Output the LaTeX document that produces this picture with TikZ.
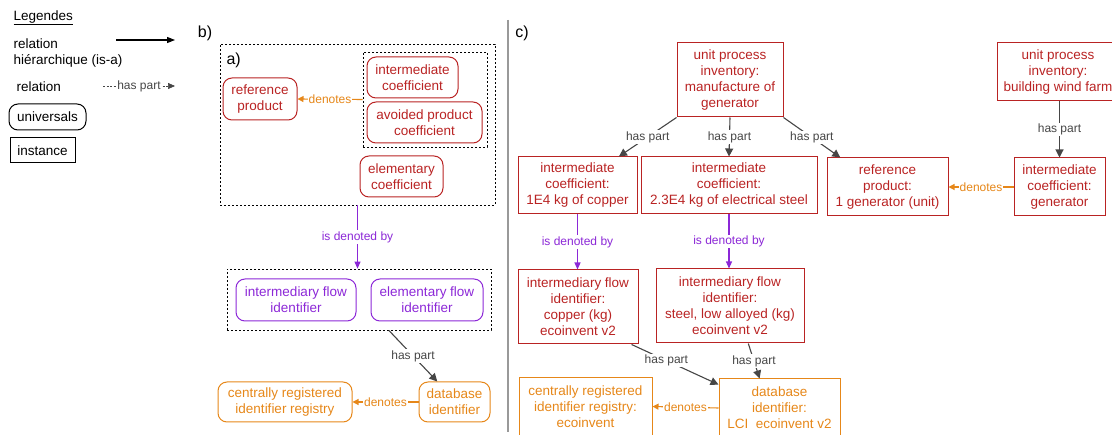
\documentclass[tikz,border=0pt]{standalone}
\usepackage{fontspec}
\setmainfont{Liberation Sans}
\usetikzlibrary{arrows.meta}
\definecolor{boxred}{RGB}{185,35,35}
\definecolor{idorange}{RGB}{230,135,25}
\definecolor{idpurple}{RGB}{140,40,215}
\definecolor{relgray}{RGB}{70,70,70}
\tikzset{
  txt/.style={font=\fontsize{13.5}{16}\selectfont},
  box/.style={txt, draw, line width=1pt, align=center, inner sep=2pt},
  univ/.style={box, rounded corners=9pt},
  inst/.style={box},
  redbox/.style={draw=boxred, text=boxred},
  orangebox/.style={draw=idorange, text=idorange},
  purplebox/.style={draw=idpurple, text=idpurple},
  group/.style={draw, line width=0.8pt, dash pattern=on 2pt off 2pt},
  rel/.style={line width=1.1pt},
  haspart/.style={rel, draw=relgray, -{Triangle[length=8pt,width=8pt]}},
  denotes/.style={rel, draw=idorange, -{Triangle[length=6pt,width=6pt]}},
  isdenoted/.style={rel, draw=idpurple, -{Triangle[length=7pt,width=6pt]}},
  lbl/.style={fill=white, inner sep=1pt, font=\fontsize{12}{14}\selectfont},
  panel/.style={font=\fontsize{16}{18}\selectfont}
}
\begin{document}
\begin{tikzpicture}[x=1pt,y=-1pt]
\useasboundingbox (0,0) rectangle (1112,435);
\clip (0,0) rectangle (1112,435);
% legende
\node[txt, anchor=west] (legtitle) at (10,18) {\underline{Legendes}};
\node[txt, anchor=west, align=left] (legisa) at (10,53) {relation\\hiérarchique (is-a)};
\coordinate (isaA) at (116,40);
\coordinate (isaB) at (175,40);
\draw[rel, black, -{Triangle[length=8pt,width=6pt]}] (isaA) -- (isaB);
\node[txt, anchor=west] (legpart) at (13,87) {relation};
\coordinate (partA) at (103,86);
\coordinate (partB) at (175,86);
\draw[line width=0.6pt, relgray, dash pattern=on 2pt off 1.5pt, -{Triangle[length=7pt,width=6pt]}] (partA) -- node[lbl, text=relgray, pos=0.5] {has part} (partB);
\node[univ, minimum width=77, minimum height=26] (leguniv) at (47.5,117) {universals};
\node[inst, minimum width=65, minimum height=25] (leginst) at (42.5,150.5) {instance};
% panneaux
\node[panel] (lblb) at (205,33) {b)};
\node[panel] (lblc) at (522,33) {c)};
\draw[line width=1.2pt, black!40] (508,20) -- (508,432);
% b) coefficients
\node[group, minimum width=275, minimum height=161] (grpcoef) at (357.5,124.5) {};
\node[panel, anchor=west] (lbla) at (223,60) {a)};
\node[univ, redbox, minimum width=74, minimum height=42] (refprod) at (260,99) {reference\\product};
\node[group, minimum width=124, minimum height=95] (grpinter) at (425,99.5) {};
\node[univ, redbox, minimum width=91, minimum height=41] (intercoef) at (412.5,77.5) {intermediate\\coefficient};
\node[univ, redbox, minimum width=115, minimum height=41] (avoidcoef) at (424.5,122.5) {avoided product\\coefficient};
\node[univ, redbox, minimum width=83, minimum height=41] (elemcoef) at (401.5,176.5) {elementary\\coefficient};
\draw[denotes] (grpinter.west) -- node[lbl, text=idorange] {denotes} (refprod.east);
% b) identifiants
\node[group, minimum width=264, minimum height=61] (grpflow) at (359,299.5) {};
\node[univ, purplebox, minimum width=120, minimum height=42] (interflow) at (296,300) {intermediary flow\\identifier};
\node[univ, purplebox, minimum width=112, minimum height=42] (elemflow) at (427,300) {elementary flow\\identifier};
\draw[isdenoted] (grpcoef.south) -- node[lbl, text=idpurple] {is denoted by} (grpcoef.south |- grpflow.north);
\node[univ, orangebox, minimum width=71, minimum height=40] (dbid) at (454.5,402) {database\\identifier};
\node[univ, orangebox, minimum width=134, minimum height=40] (regid) at (285,402) {centrally registered\\identifier registry};
\draw[haspart] (grpflow.-46) -- node[lbl, text=relgray] {has part} (dbid.130);
\draw[denotes] (dbid.west) -- node[lbl, text=idorange] {denotes} (regid.east);
% c) inventaires
\node[inst, redbox, minimum width=106, minimum height=74] (manuf) at (730,80) {unit process\\inventory:\\manufacture of\\generator};
\node[inst, redbox, minimum width=122, minimum height=58] (windfarm) at (1058,72) {unit process\\inventory:\\building wind farm};
\node[inst, redbox, minimum width=119, minimum height=57] (coppercoef) at (577.5,185.5) {intermediate\\coefficient:\\1E4 kg of copper};
\node[inst, redbox, minimum width=176, minimum height=57] (steelcoef) at (729,185.5) {intermediate\\coefficient:\\2.3E4 kg of electrical steel};
\node[inst, redbox, minimum width=121, minimum height=58] (genprod) at (887.5,187) {reference\\product:\\1 generator (unit)};
\node[inst, redbox, minimum width=91, minimum height=58] (gencoef) at (1059.5,187) {intermediate\\coefficient:\\generator};
\draw[haspart] (manuf.south west) -- node[lbl, text=relgray] {has part} (coppercoef.35);
\draw[haspart] (manuf.south) -- node[lbl, text=relgray] {has part} (steelcoef.north);
\draw[haspart] (manuf.south east) -- node[lbl, text=relgray] {has part} (genprod.148);
\draw[haspart] (gencoef.north |- windfarm.south) -- node[lbl, text=relgray] {has part} (gencoef.north);
\draw[denotes] (gencoef.west) -- node[lbl, text=idorange] {denotes} (genprod.east);
% c) identifiants
\node[inst, redbox, minimum width=120, minimum height=74] (copperflow) at (578,307) {intermediary flow\\identifier:\\copper (kg)\\ecoinvent v2};
\node[inst, redbox, minimum width=148, minimum height=74] (steelflow) at (730,306) {intermediary flow\\identifier:\\steel, low alloyed (kg)\\ecoinvent v2};
\draw[isdenoted] (coppercoef.south) -- node[lbl, text=idpurple] {is denoted by} (coppercoef.south |- copperflow.north);
\draw[isdenoted] (steelcoef.south) -- node[lbl, text=idpurple] {is denoted by} (steelcoef.south |- steelflow.north);
\node[inst, orangebox, minimum width=121, minimum height=58] (lcidb) at (779.5,408) {database\\identifier:\\LCI\ \ ecoinvent v2};
\node[inst, orangebox, minimum width=133, minimum height=58] (ecoreg) at (585.5,406.5) {centrally registered\\identifier registry:\\ecoinvent};
\draw[haspart] (copperflow.-35) -- node[lbl, text=relgray, pos=0.4] {has part} (lcidb.159);
\draw[haspart] (steelflow.-64) -- node[lbl, text=relgray] {has part} (lcidb.124);
\draw[denotes] (lcidb.west) -- node[lbl, text=idorange] {denotes} (ecoreg.east);
\end{tikzpicture}
\end{document}
